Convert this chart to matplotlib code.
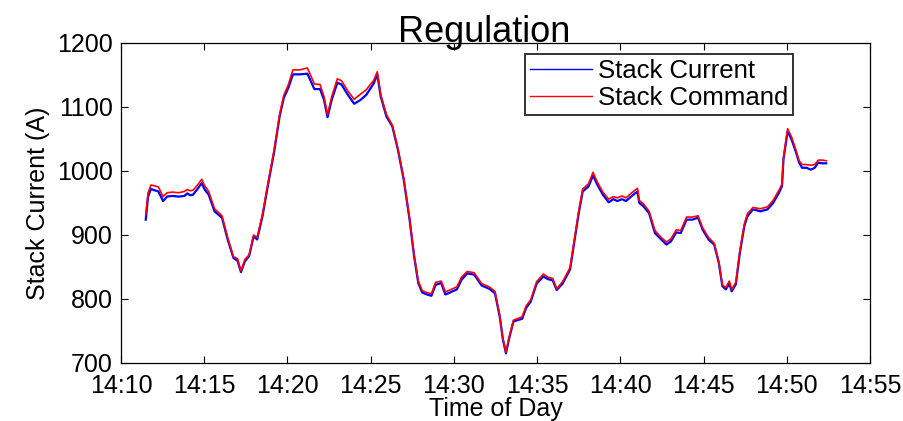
import datetime as dt
import matplotlib
matplotlib.use("Agg")
import matplotlib.pyplot as plt
import matplotlib.dates as mdates

plt.rcParams['font.family'] = ['Liberation Sans', 'DejaVu Sans']

# Sample times, minutes after 14:10
minutes = [1.49, 1.63, 1.80, 2.00, 2.25, 2.53, 2.77, 3.10, 3.47, 3.81, 3.99, 4.15, 4.33,
           4.60, 4.85, 5.03, 5.27, 5.62, 6.07, 6.41, 6.76, 7.00, 7.21, 7.45, 7.70, 7.97,
           8.18, 8.50, 8.84, 9.19, 9.53, 9.78, 10.06, 10.33, 10.75, 11.20, 11.62, 11.96,
           12.20, 12.41, 12.66, 13.00, 13.25, 13.63, 14.01, 14.39, 14.74, 15.19, 15.40,
           15.60, 15.95, 16.30, 16.64, 16.99, 17.34, 17.61, 17.86, 18.10, 18.38, 18.65,
           18.90, 19.24, 19.49, 19.76, 20.18, 20.46, 20.80, 21.22, 21.67, 22.12, 22.47,
           22.75, 22.95, 23.13, 23.30, 23.58, 24.10, 24.34, 24.62, 24.97, 25.38, 25.66,
           25.94, 26.18, 26.53, 26.98, 27.22, 27.50, 27.74, 28.09, 28.36, 28.61, 28.95,
           29.30, 29.58, 29.82, 30.10, 30.34, 30.69, 31.03, 31.14, 31.38, 31.73, 32.08,
           32.42, 32.77, 33.04, 33.36, 33.63, 33.98, 34.33, 34.67, 34.95, 35.30, 35.64,
           35.92, 36.13, 36.34, 36.55, 36.69, 36.94, 37.18, 37.45, 37.63, 37.97, 38.42,
           38.84, 39.18, 39.53, 39.71, 39.80, 40.05, 40.29, 40.57, 40.74, 40.92, 41.19,
           41.44, 41.68, 41.89, 42.13, 42.37]

stack_current = [924, 960, 972, 970, 968, 953, 960, 961, 960, 961, 965, 962, 963,
                 972, 981, 971, 963, 937, 927, 893, 864, 860, 842, 859, 867, 898,
                 893, 929, 979, 1028, 1085, 1114, 1130, 1151, 1151, 1152, 1128, 1128,
                 1111, 1084, 1111, 1138, 1135, 1119, 1105, 1111, 1119, 1137, 1151,
                 1117, 1085, 1070, 1033, 986, 924, 867, 825, 810, 807, 805,
                 822, 825, 807, 810, 815, 830, 840, 838, 821, 816, 809,
                 773, 736, 715, 736, 765, 769, 786, 796, 824, 835, 831,
                 829, 814, 824, 846, 887, 934, 968, 976, 993, 979, 963,
                 951, 956, 953, 956, 953, 961, 968, 950, 945, 934, 903,
                 894, 885, 890, 904, 903, 924, 924, 927, 908, 893, 885,
                 856, 820, 815, 824, 812, 823, 872, 914, 929, 940, 937,
                 940, 950, 966, 976, 1018, 1062, 1049, 1028, 1013, 1005, 1005,
                 1002, 1005, 1013, 1012, 1012]

stack_command = [932, 966, 978, 977, 975, 960, 966, 967, 966, 968, 971, 969, 970,
                 978, 987, 977, 968, 941, 930, 896, 866, 863, 844, 862, 869, 900,
                 896, 932, 982, 1031, 1088, 1118, 1135, 1158, 1158, 1161, 1136, 1135,
                 1116, 1088, 1116, 1144, 1141, 1125, 1112, 1120, 1127, 1142, 1155,
                 1120, 1088, 1072, 1035, 988, 926, 869, 828, 813, 810, 808,
                 826, 828, 811, 814, 819, 834, 843, 841, 824, 819, 812,
                 775, 738, 717, 738, 767, 772, 789, 799, 827, 839, 834,
                 832, 816, 827, 849, 890, 937, 972, 980, 998, 983, 967,
                 956, 960, 958, 961, 958, 966, 973, 954, 949, 937, 907,
                 897, 889, 894, 908, 907, 928, 928, 930, 911, 896, 887,
                 858, 822, 818, 828, 815, 826, 875, 917, 933, 943, 941,
                 944, 954, 970, 979, 1021, 1066, 1053, 1031, 1016, 1010, 1010,
                 1009, 1010, 1017, 1017, 1016]

start = dt.datetime(2013, 1, 1, 14, 10)
times = [start + dt.timedelta(minutes=m) for m in minutes]

fig = plt.figure(figsize=(9.04, 4.21), dpi=100)
ax = fig.add_axes([0.1338, 0.1378, 0.9624 - 0.1338, 0.8979 - 0.1378])

ax.plot(times, stack_current, color=(0, 0, 1), lw=1.6, label='Stack Current')
ax.plot(times, stack_command, color=(1, 0, 0), lw=1.2, label='Stack Command')

ax.set_xlim(start, start + dt.timedelta(minutes=45))
ax.set_ylim(700, 1200)
ax.set_yticks([700, 800, 900, 1000, 1100, 1200])
ax.xaxis.set_major_locator(mdates.MinuteLocator(byminute=range(0, 60, 5)))
ax.xaxis.set_major_formatter(mdates.DateFormatter('%H:%M'))

ax.tick_params(direction='in', length=5, width=0.8, top=True, right=True,
               labelsize=18, colors='black')
ax.tick_params(axis='x', pad=8)
ax.tick_params(axis='y', pad=6)
for s in ax.spines.values():
    s.set_linewidth(0.9)
    s.set_color('black')

ax.set_title('Regulation', fontsize=26, pad=1, x=0.485)
ax.set_xlabel('Time of Day', fontsize=18, labelpad=-1)
ax.set_ylabel('Stack Current (A)', fontsize=18, labelpad=5)

leg = ax.legend(loc='upper left', bbox_to_anchor=(0.539, 0.966), fontsize=18.5,
                frameon=True, fancybox=False, shadow=False, borderpad=0.2,
                handlelength=2.4, handletextpad=0.25, labelspacing=0.12,
                borderaxespad=0.0)
leg.get_frame().set_edgecolor('black')
leg.get_frame().set_linewidth(1.4)
for h in leg.get_lines():
    h.set_linewidth(1.0)

fig.savefig('out.png', dpi=100)
